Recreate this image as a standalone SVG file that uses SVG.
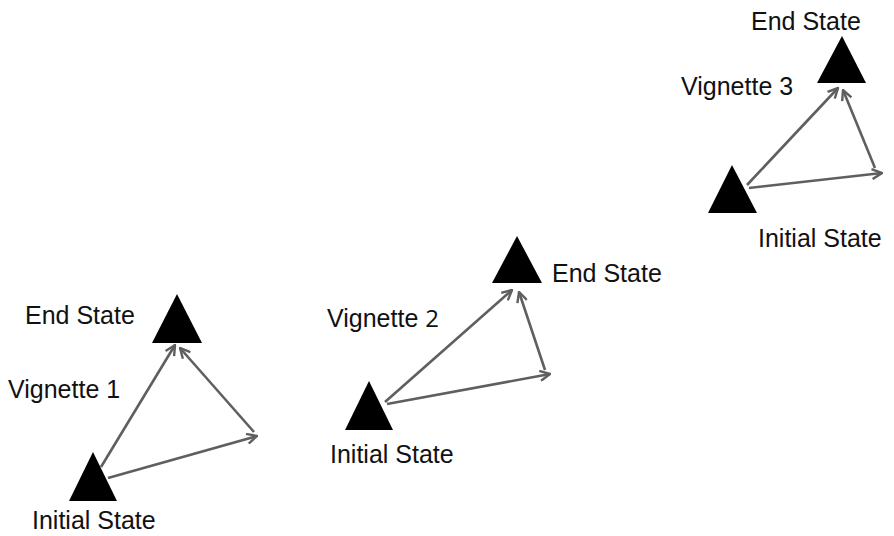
<svg xmlns="http://www.w3.org/2000/svg" width="894" height="536" viewBox="0 0 894 536">
  <style>
    .lbl { font-family: "Liberation Sans", Arial, sans-serif; font-size: 25px; fill: #111; }
    .tri { fill: #000; }
    .conn line { stroke: #5f5f5f; stroke-width: 2.6; marker-end: url(#arr); }
  </style>
  <defs>
    <marker id="arr" viewBox="0 0 12 12" refX="11" refY="6" markerWidth="12" markerHeight="12" markerUnits="userSpaceOnUse" orient="auto">
      <path d="M1,1 L11,6 L1,11" fill="none" stroke="#5f5f5f" stroke-width="2.4" stroke-linejoin="miter"/>
    </marker>
  </defs>
  <rect width="894" height="536" fill="#fff"/>

  <g id="conns" class="conn">
    <line x1="101" y1="467" x2="175" y2="345"/>
    <line x1="108" y1="478" x2="257" y2="436"/>
    <line x1="254" y1="432" x2="180" y2="348"/>

    <line x1="385" y1="402" x2="512" y2="290"/>
    <line x1="387" y1="404" x2="550" y2="374"/>
    <line x1="545" y1="370" x2="519" y2="292"/>

    <line x1="747" y1="185" x2="838" y2="88"/>
    <line x1="749" y1="188" x2="882" y2="173"/>
    <line x1="875" y1="168" x2="843" y2="90"/>
  </g>

  <g id="v1-end">
    <polygon class="tri" points="177,294 152,343 202,343"/>
    <text class="lbl" x="25" y="324">End State</text>
  </g>
  <g id="v1-initial">
    <polygon class="tri" points="93,452 69,501 117,501"/>
    <text class="lbl" x="32" y="529">Initial State</text>
  </g>
  <g id="v1-label">
    <text class="lbl" x="8" y="398">Vignette 1</text>
  </g>

  <g id="v2-end">
    <polygon class="tri" points="517,236 492,283 542,283"/>
    <text class="lbl" x="552" y="282">End State</text>
  </g>
  <g id="v2-initial">
    <polygon class="tri" points="369,381 345,430 393,430"/>
    <text class="lbl" x="330" y="463">Initial State</text>
  </g>
  <g id="v2-label">
    <text class="lbl" x="327" y="327">Vignette <tspan style="font-family: 'Open Sans', sans-serif; font-size: 24px;">2</tspan></text>
  </g>

  <g id="v3-end">
    <polygon class="tri" points="842,36 817,83 866,83"/>
    <text class="lbl" x="751" y="30">End State</text>
  </g>
  <g id="v3-initial">
    <polygon class="tri" points="732,165 708,213 757,213"/>
    <text class="lbl" x="758" y="247">Initial State</text>
  </g>
  <g id="v3-label">
    <text class="lbl" x="681" y="95">Vignette 3</text>
  </g>
</svg>
